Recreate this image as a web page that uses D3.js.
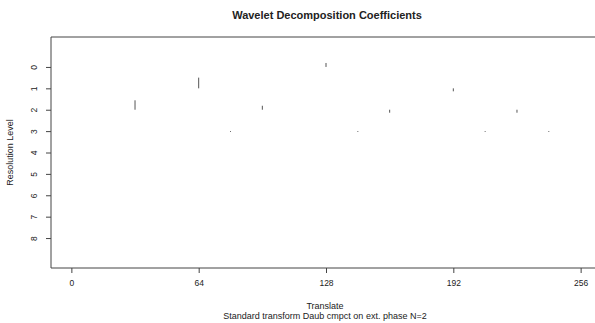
<!DOCTYPE html>
<html>
<head>
<meta charset="utf-8">
<script src="https://cdn.jsdelivr.net/npm/d3@7"></script>
<style>
  body { margin: 0; background: #fff; overflow: hidden; }
  svg text { font-family: "Liberation Sans", Arial, sans-serif; fill: #222; }
</style>
</head>
<body>
<svg id="chart" width="595" height="323"></svg>
<script>
// data: coefficient positions (translate) and values per resolution level
// values are relative to the largest coefficient (global scaling); + is drawn upward
var levels = [0, 1, 2, 3, 4, 5, 6, 7, 8];
var level0_pos = [128];
var level0_val = [0.37];
var level1_pos = [64, 192];
var level1_val = [1.0, -0.28];
var level2_pos = [32, 96, 160, 224];
var level2_val = [0.88, 0.37, -0.28, -0.28];
var level3_pos = [16, 48, 80, 112, 144, 176, 208, 240];
var level3_val = [0, 0, -0.08, 0, -0.08, 0, -0.08, -0.08];
var xTicks = [0, 64, 128, 192, 256];

var coefs = [
  { level: 0, pos: level0_pos, val: level0_val },
  { level: 1, pos: level1_pos, val: level1_val },
  { level: 2, pos: level2_pos, val: level2_val },
  { level: 3, pos: level3_pos, val: level3_val }
];

// layout
var box = { left: 51, top: 37, right: 601, bottom: 268 };

var svg = d3.select("#chart");

var x = d3.scaleLinear().domain([-10.24, 266.24]).range([box.left, box.right]);
var y = d3.scaleLinear().domain([-1.4, 9.4]).range([box.top, box.bottom]);
// largest coefficient spans half a level
var h = d3.scaleLinear().domain([0, 1]).range([0, 0.5]);

// plot frame (right side falls outside the window, as in the original)
svg.append("path")
    .attr("d", "M620," + box.top + "H" + box.left + "V" + box.bottom + "H620")
    .style("fill", "none").style("stroke", "#444").style("stroke-width", 1);

// x axis
var xAxis = svg.append("g")
    .attr("transform", "translate(0," + box.bottom + ")")
    .call(d3.axisBottom(x).tickValues(xTicks).tickSize(5).tickPadding(7));
xAxis.select(".domain").remove();
xAxis.selectAll("line").style("stroke", "#444");
xAxis.selectAll("text").style("font-size", "8.5px").style("fill", "#222")
    .style("font-family", "Liberation Sans, Arial, sans-serif");

// y axis (labels rotated like base R)
var yAxis = svg.append("g")
    .attr("transform", "translate(" + box.left + ",0)")
    .call(d3.axisLeft(y).tickValues(levels).tickSize(5).tickFormat(d3.format("d")));
yAxis.select(".domain").remove();
yAxis.selectAll("line").style("stroke", "#444");
yAxis.selectAll("text")
    .attr("x", 0).attr("dy", null)
    .attr("transform", "translate(-17,0) rotate(-90)")
    .attr("text-anchor", "middle")
    .attr("dominant-baseline", "central")
    .style("font-size", "8.5px").style("fill", "#222")
    .style("font-family", "Liberation Sans, Arial, sans-serif");

// coefficient segments
coefs.forEach(function(c) {
  var rows = c.pos.map(function(p, i) { return { pos: p, val: c.val[i] }; })
      .filter(function(d) { return d.val !== 0; });
  svg.append("g").selectAll("line")
      .data(rows)
      .enter()
      .append("line")
      .attr("x1", function(d) { return x(d.pos); })
      .attr("x2", function(d) { return x(d.pos); })
      .attr("y1", y(c.level))
      .attr("y2", function(d) { return y(c.level - h(d.val)); })
      .style("stroke", "#555")
      .style("stroke-width", 1);
});

// titles
svg.append("text")
    .attr("x", 327).attr("y", 19)
    .attr("text-anchor", "middle")
    .style("font-size", "11px").style("font-weight", "bold")
    .text("Wavelet Decomposition Coefficients");

svg.append("text")
    .attr("x", 325).attr("y", 309)
    .attr("text-anchor", "middle")
    .style("font-size", "9px")
    .text("Translate");

svg.append("text")
    .attr("x", 325).attr("y", 319)
    .attr("text-anchor", "middle")
    .style("font-size", "9px")
    .text("Standard transform Daub cmpct on ext. phase N=2");

svg.append("text")
    .attr("transform", "translate(13," + ((box.top + box.bottom) / 2) + ") rotate(-90)")
    .attr("text-anchor", "middle")
    .style("font-size", "9px")
    .text("Resolution Level");
</script>
</body>
</html>
